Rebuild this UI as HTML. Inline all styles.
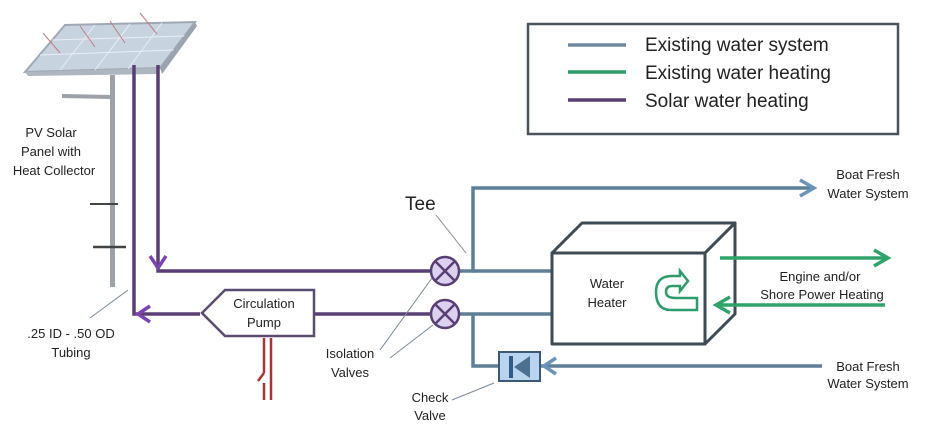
<!DOCTYPE html>
<html><head><style>
body{margin:0;background:#fff}
svg{display:block}
text{font-family:"Liberation Sans",sans-serif;fill:#222}
</style></head><body>
<svg width="940" height="430" viewBox="0 0 940 430" xmlns="http://www.w3.org/2000/svg">
<!-- solar panel -->
<polygon points="25,72 65,25 195,22 160,68" fill="#c8d3e0" stroke="#a0a8b4" stroke-width="2"/>
<g stroke="#e8eef5" stroke-width="1">
<line x1="40" y1="55" x2="175" y2="50"/><line x1="52" y1="40" x2="185" y2="36"/>
<line x1="60" y1="70" x2="95" y2="25"/><line x1="95" y1="70" x2="130" y2="24"/><line x1="128" y1="69" x2="162" y2="23"/>
</g>
<polygon points="25,72 160,68 158,74 28,76" fill="#aeb6c0"/>
<polygon points="160,68 195,22 197,26 162,74" fill="#9aa3ae"/>
<g stroke="#c08080" stroke-width="1" fill="none">
<line x1="43" y1="33" x2="60" y2="53"/><line x1="80" y1="26" x2="95" y2="47"/><line x1="110" y1="21" x2="125" y2="43"/><line x1="140" y1="13" x2="157" y2="34"/>
</g>
<rect x="110" y="75" width="5" height="212" fill="#9ca2a8"/>
<line x1="62" y1="96" x2="110" y2="97" stroke="#9ca2a8" stroke-width="4"/>
<line x1="90" y1="204" x2="118" y2="204" stroke="#444" stroke-width="2"/>
<line x1="93" y1="247" x2="126" y2="247" stroke="#444" stroke-width="2.5"/>
<text font-size="13" text-anchor="middle"><tspan x="51" y="137">PV Solar</tspan><tspan x="51" y="156">Panel with</tspan><tspan x="54" y="175">Heat Collector</tspan></text>
<text font-size="13" text-anchor="middle"><tspan x="71" y="338">.25 ID - .50 OD</tspan><tspan x="71" y="357">Tubing</tspan></text>
<line x1="90" y1="318" x2="128" y2="290" stroke="#7a8a99" stroke-width="1"/>
<!-- purple -->
<g stroke="#5a3f75" stroke-width="3.5" fill="none">
<polyline points="158,65 158,271 430,271"/>
<polyline points="134,65 134,314 200,314"/>
<line x1="314" y1="314" x2="430" y2="314"/>
<polyline points="150,256 158,268 166,256" stroke="#7b45b0"/>
<polyline points="150,306 138,314 150,322" stroke="#7b45b0"/>
</g>
<polygon points="202,313 225,290 314,290 314,336 225,336" fill="#fff" stroke="#5a4c70" stroke-width="2.5"/>
<text font-size="13" text-anchor="middle"><tspan x="264" y="308">Circulation</tspan><tspan x="264" y="327">Pump</tspan></text>
<g stroke="#a33" stroke-width="2.5"><line x1="264" y1="338" x2="264" y2="373"/><line x1="264" y1="383" x2="264" y2="400"/><line x1="271" y1="338" x2="271" y2="400"/><line x1="264" y1="373" x2="258" y2="381"/></g>
<!-- blue -->
<g stroke="#5f7f96" stroke-width="3.5" fill="none">
<polyline points="460,271 473,271 473,188 812,188"/>
<line x1="473" y1="271" x2="552" y2="271"/>
<polyline points="460,314 552,314"/>
<polyline points="473,314 473,366 500,366"/>
<line x1="540" y1="366" x2="822" y2="366"/>
<polyline points="800,180 814,188 800,196" stroke="#6a93b8"/>
<polyline points="556,358 544,366 556,374" stroke="#6a93b8"/>
</g>
<rect x="499" y="352" width="41" height="29" fill="#b8d4ee" stroke="#3c5a78" stroke-width="2"/>
<rect x="509" y="356" width="4" height="22" fill="#2f5b88"/>
<polygon points="530,356 530,378 514,367" fill="#4d6f90"/>
<!-- valves -->
<g stroke="#5a3f75" stroke-width="2.5" fill="#dcd2f0">
<circle cx="445" cy="271" r="14"/><circle cx="445" cy="314" r="14"/>
<path d="M435,261 L455,281 M455,261 L435,281 M435,304 L455,324 M455,304 L435,324" fill="none"/>
</g>
<text x="405" y="210" font-size="19">Tee</text>
<line x1="436" y1="215" x2="466" y2="253" stroke="#888" stroke-width="1"/>
<text font-size="13" text-anchor="middle"><tspan x="350" y="358">Isolation</tspan><tspan x="350" y="377">Valves</tspan></text>
<g stroke="#7a8a99" stroke-width="1"><line x1="380" y1="350" x2="432" y2="278"/><line x1="390" y1="358" x2="433" y2="325"/><line x1="452" y1="400" x2="494" y2="383"/></g>
<text font-size="13" text-anchor="middle"><tspan x="430" y="402">Check</tspan><tspan x="430" y="420">Valve</tspan></text>
<!-- heater -->
<g stroke="#3e4a54" stroke-width="3" fill="#fff" stroke-linejoin="round">
<polygon points="552,253 582,223 735,223 705,253"/>
<polygon points="705,253 735,223 735,314 705,344"/>
<rect x="552" y="253" width="153" height="91"/>
</g>
<text font-size="13" text-anchor="middle"><tspan x="607" y="288">Water</tspan><tspan x="607" y="307">Heater</tspan></text>
<path d="M676,298 L697,298 L697,310 L671,310 Q656,310 656,292 Q656,276 672,276 L680,276 L680,271 L688,281 L680,291 L680,286 L672,286 Q666,286 666,292 Q666,298 676,298Z" fill="none" stroke="#2f9a6c" stroke-width="2.5"/>
<g stroke="#2fa36a" stroke-width="3.5" fill="none">
<line x1="720" y1="258" x2="888" y2="258"/>
<polyline points="874,250 888,258 874,266"/>
<line x1="885" y1="305" x2="716" y2="305"/>
<polyline points="730,297 716,305 730,313"/>
</g>
<text font-size="13" text-anchor="middle"><tspan x="820" y="281">Engine and/or</tspan><tspan x="822" y="299">Shore Power Heating</tspan></text>
<text font-size="13" text-anchor="middle"><tspan x="868" y="179">Boat Fresh</tspan><tspan x="868" y="198">Water System</tspan></text>
<text font-size="13" text-anchor="middle"><tspan x="868" y="371">Boat Fresh</tspan><tspan x="868" y="388">Water System</tspan></text>
<!-- legend -->
<rect x="528" y="24" width="370" height="110" fill="#fff" stroke="#4a545c" stroke-width="2.5"/>
<line x1="568" y1="45" x2="626" y2="45" stroke="#6f8aa0" stroke-width="3.5"/>
<line x1="568" y1="72" x2="626" y2="72" stroke="#2e9a6a" stroke-width="3.5"/>
<line x1="568" y1="100" x2="626" y2="100" stroke="#5a3f75" stroke-width="3.5"/>
<text font-size="19"><tspan x="645" y="51">Existing water system</tspan><tspan x="645" y="79">Existing water heating</tspan><tspan x="645" y="107">Solar water heating</tspan></text>
</svg>
</body></html>
